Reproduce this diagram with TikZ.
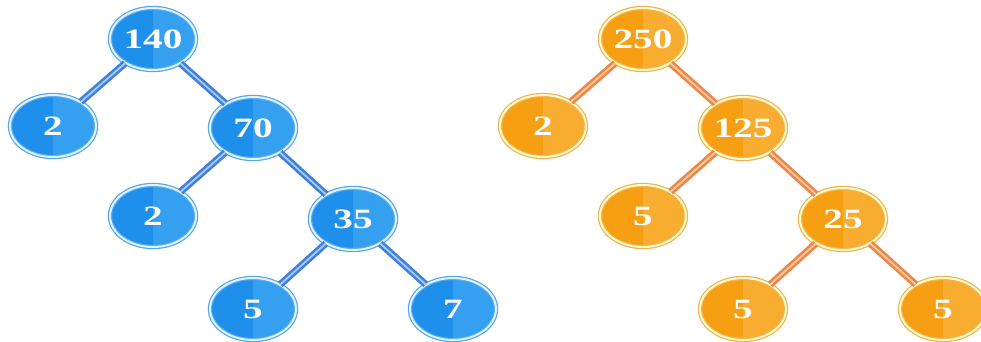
\documentclass[tikz,border=0pt]{standalone}
\usepackage{fontspec}
\setmainfont{Liberation Serif}
\usetikzlibrary{shapes.geometric}
\definecolor{bluefill}{HTML}{1E8FEA}
\definecolor{bluelight}{HTML}{36A0F0}
\definecolor{bluering}{HTML}{4FA8F0}
\definecolor{blueedge}{HTML}{3F7FE0}
\definecolor{blueinner}{HTML}{A9CCF7}
\definecolor{orangefill}{HTML}{F79F12}
\definecolor{orangelight}{HTML}{F8AC30}
\definecolor{orangering}{HTML}{F2B24E}
\definecolor{orangeedge}{HTML}{EE8646}
\definecolor{orangeinner}{HTML}{F8C9A5}
\newcommand{\wide}[1]{\scalebox{1.4}[1]{#1}}
\tikzset{
  x=1pt, y=-1pt,
  factor/.style={ellipse, minimum width=86pt, minimum height=62pt, inner sep=0pt,
    text=white, font=\fontsize{28}{28}\selectfont\bfseries,
    line width=1.2pt, double distance=2pt},
  bluenode/.style={factor, fill=bluefill, draw=bluering, double=white!85!bluering,
    path picture={\fill[bluelight] (path picture bounding box.north)
      rectangle (path picture bounding box.south east);}},
  orangenode/.style={factor, fill=orangefill, draw=orangering, double=white!80!yellow,
    path picture={\fill[orangelight] (path picture bounding box.north)
      rectangle (path picture bounding box.south east);}},
  blueline/.style={draw=blueedge, line width=2.6pt, double=blueinner, double distance=1.8pt},
  orangeline/.style={draw=orangeedge, line width=2.6pt, double=orangeinner, double distance=1.8pt},
}
\begin{document}
\begin{tikzpicture}
\useasboundingbox (0,0) rectangle (981,341);
% blue tree: 140 = 2 x 2 x 5 x 7
\node[bluenode] (b140) at (153,39) {\wide{140}};
\node[bluenode] (b2a)  at (53,126)  {\wide{2}};
\node[bluenode] (b70)  at (253,128) {\wide{70}};
\node[bluenode] (b2b)  at (153,216) {\wide{2}};
\node[bluenode] (b35)  at (353,219) {\wide{35}};
\node[bluenode] (b5)   at (253,309) {\wide{5}};
\node[bluenode] (b7)   at (453,309) {\wide{7}};
% orange tree: 250 = 2 x 5 x 5 x 5
\node[orangenode] (o250) at (643,39)  {\wide{250}};
\node[orangenode] (o2)   at (543,126) {\wide{2}};
\node[orangenode] (o125) at (743,128) {\wide{125}};
\node[orangenode] (o5a)  at (643,216) {\wide{5}};
\node[orangenode] (o25)  at (843,219) {\wide{25}};
\node[orangenode] (o5b)  at (743,309) {\wide{5}};
\node[orangenode] (o5c)  at (943,309) {\wide{5}};
% branches
\draw[blueline] (b140) -- (b2a);
\draw[blueline] (b140) -- (b70);
\draw[blueline] (b70) -- (b2b);
\draw[blueline] (b70) -- (b35);
\draw[blueline] (b35) -- (b5);
\draw[blueline] (b35) -- (b7);
\draw[orangeline] (o250) -- (o2);
\draw[orangeline] (o250) -- (o125);
\draw[orangeline] (o125) -- (o5a);
\draw[orangeline] (o125) -- (o25);
\draw[orangeline] (o25) -- (o5b);
\draw[orangeline] (o25) -- (o5c);
\end{tikzpicture}
\end{document}
